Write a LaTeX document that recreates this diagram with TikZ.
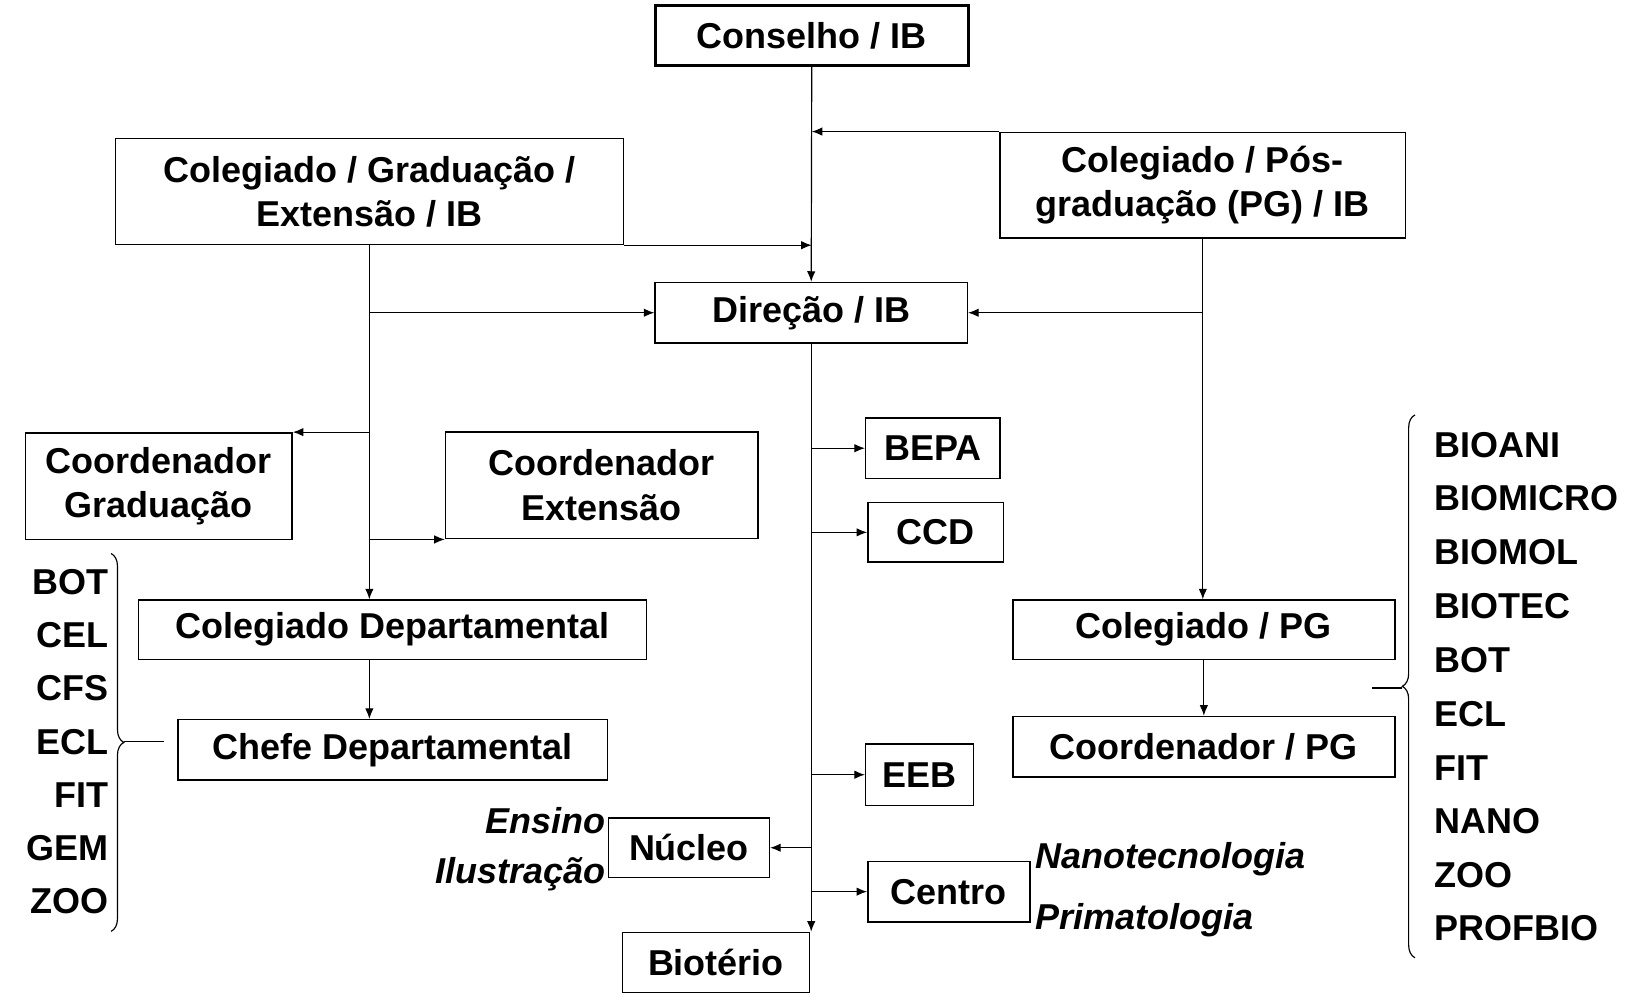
\documentclass[tikz,border=0pt]{standalone}
\usepackage{fontspec}
\setmainfont{Liberation Sans}
\usetikzlibrary{arrows.meta,decorations.pathreplacing}
\begin{document}
\begin{tikzpicture}[x=1pt,y=-1pt,
  box/.style={draw,line width=1.4pt,inner sep=0pt,align=center,font=\fontsize{34}{42}\selectfont\bfseries},
  arr/.style={line width=1.1pt,-{Latex[length=10pt,width=8pt]}},
  ln/.style={line width=1.1pt},
  lab/.style={inner sep=0pt,font=\fontsize{34}{40}\selectfont\bfseries},
  it/.style={inner sep=0pt,font=\fontsize{34}{40}\selectfont\bfseries\itshape}]
\useasboundingbox (0,0) rectangle (1560,947);
\node[box,line width=3pt,minimum width=296,minimum height=57] (cons) at (767,33.5) {Conselho / IB};
\node[box,minimum width=480,minimum height=100] (grad) at (349,181) {Colegiado / Graduação /\\Extensão / IB};
\node[box,minimum width=383,minimum height=100] (pos) at (1136.5,175) {Colegiado / Pós-\\graduação (PG) / IB};
\node[box,minimum width=295,minimum height=57] (dir) at (766.5,295.5) {Direção / IB};
\node[box,minimum width=252,minimum height=101] (cgrad) at (150,459.5) {Coordenador\\Graduação};
\node[box,minimum width=295,minimum height=101] (cext) at (568.5,458.5) {Coordenador\\Extensão};
\node[box,minimum width=480,minimum height=56] (cdept) at (371,595) {Colegiado Departamental};
\node[box,minimum width=406,minimum height=57] (chefe) at (371,708.5) {Chefe Departamental};
\node[box,minimum width=127,minimum height=57] (bepa) at (881.5,423.5) {BEPA};
\node[box,minimum width=128,minimum height=56] (ccd) at (884,503) {CCD};
\node[box,minimum width=102,minimum height=58] (eeb) at (869,732) {EEB};
\node[box,minimum width=152,minimum height=56] (nuc) at (651,801) {Núcleo};
\node[box,minimum width=153,minimum height=57] (centro) at (896.5,842.5) {Centro};
\node[box,minimum width=177,minimum height=57] (bio) at (676.5,909.5) {Biotério};
\node[box,minimum width=361,minimum height=56] (cpg) at (1137.5,595) {Colegiado / PG};
\node[box,minimum width=361,minimum height=57] (coordpg) at (1137.5,705.5) {Coordenador / PG};

\draw[arr] (cons.south) -- (dir.north);
\draw[arr] (pos.north west) -- (pos.north west -| cons.south);
\draw[arr] (grad.south east) -- (grad.south east -| cons.south);
\draw[arr] (grad.south) -- (grad.south |- cdept.north);
\draw[arr] (grad.south |- dir.west) -- (dir.west);
\draw[arr] (grad.south |- cgrad.north east) -- (cgrad.north east);
\draw[arr] (grad.south |- cext.south west) -- (cext.south west);
\draw[arr] (cdept.south -| grad.south) -- (chefe.north -| grad.south);
\draw[arr] (pos.south) -- (pos.south |- cpg.north);
\draw[arr] (pos.south |- dir.east) -- (dir.east);
\draw[arr] (cpg.south) -- (coordpg.north);
\draw[arr] (dir.south) -- (dir.south |- bio.north);
\draw[arr] (dir.south |- bepa.west) -- (bepa.west);
\draw[arr] (dir.south |- ccd.west) -- (ccd.west);
\draw[arr] (dir.south |- eeb.west) -- (eeb.west);
\draw[arr] (dir.south |- centro.west) -- (centro.west);
\draw[arr] (dir.south |- nuc.east) -- (nuc.east);

\foreach \t/\y/\n in {BOT/550/l1,CEL/600/l2,CFS/650/l3,ECL/701/l4,FIT/751/l5,GEM/801/l6,ZOO/851/l7}
  \node[lab,anchor=east] (\n) at (103,\y) {\t};
\foreach \t/\y/\n in {BIOANI/421/r1,BIOMICRO/471/r2,BIOMOL/522/r3,BIOTEC/573/r4,BOT/624/r5,ECL/675/r6,FIT/726/r7,NANO/776/r8,ZOO/827/r9,PROFBIO/877/r10}
  \node[lab,anchor=west] (\n) at (1355,\y) {\t};
\node[it,anchor=east] (ens) at (572,775) {Ensino};
\node[it,anchor=east] (ilu) at (572,826) {Ilustração};
\node[it,anchor=west] (nano) at (978,812) {Nanotecnologia};
\node[it,anchor=west] (prim) at (978,869) {Primatologia};

\draw[ln,decorate,decoration={brace,amplitude=12pt}] (105,523) -- (105,880);
\draw[ln] (117,701) -- (155,701);
\draw[ln,decorate,decoration={brace,amplitude=12pt}] (1337,905) -- (1337,392);
\draw[ln] (1325,650) -- (1296,650);
\end{tikzpicture}
\end{document}
